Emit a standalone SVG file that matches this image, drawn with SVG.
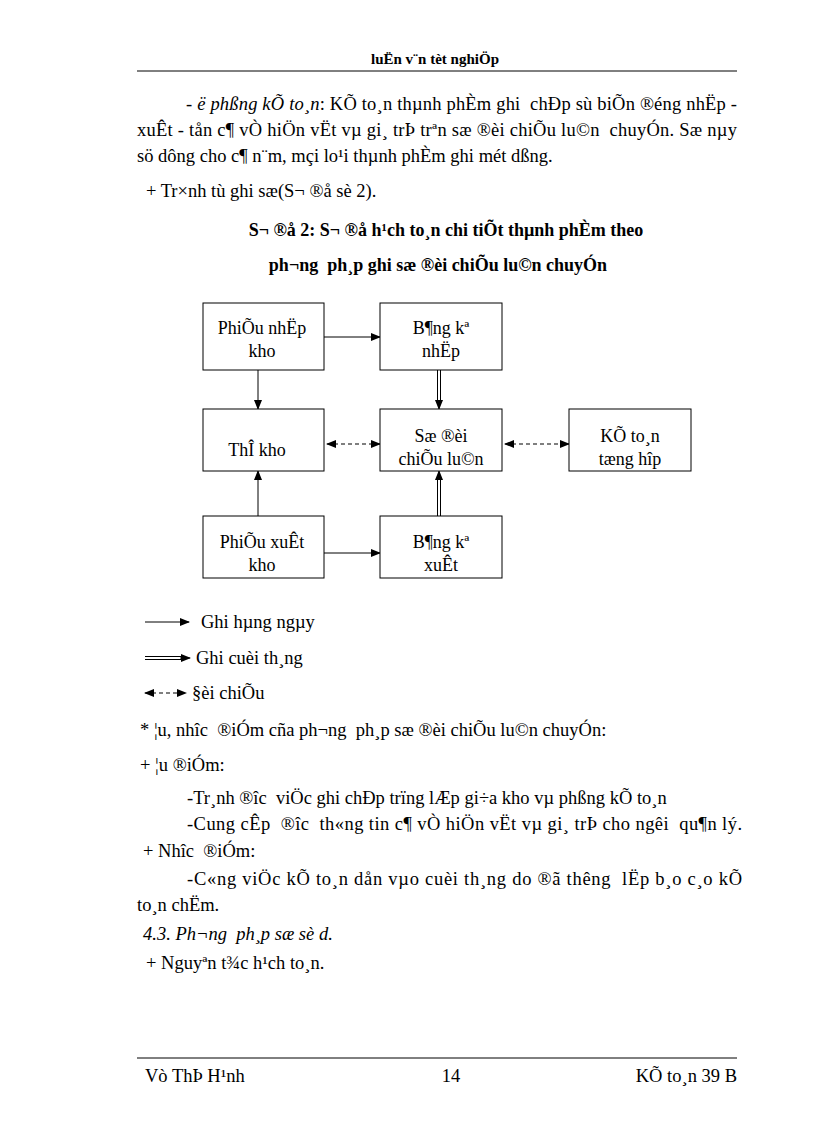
<svg xmlns="http://www.w3.org/2000/svg" width="816" height="1123" viewBox="0 0 816 1123" xml:space="preserve">
<style>
text{font-family:"Liberation Serif","Times New Roman",serif;fill:#000;white-space:pre}
.b{font-size:18.5px}
.h{font-size:15px;font-weight:bold}
.t{font-size:18px;font-weight:bold}
.i{font-style:italic}
.n{font-size:18px}
.box{fill:#fff;stroke:#000;stroke-width:1}
.ln{stroke:#000;stroke-width:1;fill:none}
.ds{stroke:#000;stroke-width:1.2;fill:none;stroke-dasharray:4 3}
</style>
<defs>
<marker id="ah" markerWidth="10" markerHeight="8" refX="9" refY="4" orient="auto" markerUnits="userSpaceOnUse"><path d="M0,0 L10,4 L0,8 Z" fill="#000"/></marker>
<marker id="as" markerWidth="10" markerHeight="8" refX="1" refY="4" orient="auto" markerUnits="userSpaceOnUse"><path d="M10,0 L0,4 L10,8 Z" fill="#000"/></marker>
</defs>
<rect width="816" height="1123" fill="#fff"/>
<text class="h" x="435" y="64" text-anchor="middle">luËn v¨n tèt nghiÖp</text>
<line x1="137" y1="71" x2="737" y2="71" stroke="#000" stroke-width="1"/>
<text class="b" x="186" y="110" textLength="551" lengthAdjust="spacing"><tspan class="i">- ë phßng kÕ to¸n</tspan>: KÕ to¸n thµnh phÈm ghi  chÐp sù biÕn ®éng nhËp -</text>
<text class="b" x="137" y="136" textLength="600" lengthAdjust="spacing">xuÊt - tån c¶ vÒ hiÖn vËt vµ gi¸ trÞ trªn sæ ®èi chiÕu lu©n  chuyÓn. Sæ nµy</text>
<text class="b" x="137" y="162">sö dông cho c¶ n¨m, mçi lo¹i thµnh phÈm ghi mét dßng.</text>
<text class="b" x="146" y="197">+ Tr×nh tù ghi sæ(S¬ ®å sè 2).</text>
<text class="t" x="446" y="236" text-anchor="middle">S¬ ®å 2: S¬ ®å h¹ch to¸n chi tiÕt thµnh phÈm theo</text>
<text class="t" x="438" y="271" text-anchor="middle">ph¬ng  ph¸p ghi sæ ®èi chiÕu lu©n chuyÓn</text>
<g id="connectors">
<line class="ln" x1="324" y1="337" x2="380" y2="337" marker-end="url(#ah)"/>
<line class="ln" x1="258" y1="370" x2="258" y2="409" marker-end="url(#ah)"/>
<line class="ln" x1="437.5" y1="370" x2="437.5" y2="402"/>
<line class="ln" x1="440.5" y1="370" x2="440.5" y2="402"/>
<line class="ln" x1="439" y1="400" x2="439" y2="409" marker-end="url(#ah)"/>
<line class="ds" x1="327" y1="444" x2="380" y2="444" marker-start="url(#as)" marker-end="url(#ah)"/>
<line class="ds" x1="505" y1="444" x2="569" y2="444" marker-start="url(#as)" marker-end="url(#ah)"/>
<line class="ln" x1="258" y1="516" x2="258" y2="471" marker-end="url(#ah)"/>
<line class="ln" x1="437.5" y1="516" x2="437.5" y2="478"/>
<line class="ln" x1="440.5" y1="516" x2="440.5" y2="478"/>
<line class="ln" x1="439" y1="480" x2="439" y2="471" marker-end="url(#ah)"/>
<line class="ln" x1="324" y1="553" x2="380" y2="553" marker-end="url(#ah)"/>
</g>
<g id="n1"><rect class="box" x="203" y="303" width="121" height="67"/><text class="n" x="262" y="334" text-anchor="middle">PhiÕu nhËp</text><text class="n" x="262" y="357" text-anchor="middle">kho</text></g>
<g id="n2"><rect class="box" x="380" y="303" width="122" height="67"/><text class="n" x="441" y="334" text-anchor="middle">B¶ng kª</text><text class="n" x="441" y="357" text-anchor="middle">nhËp</text></g>
<g id="n3"><rect class="box" x="203" y="409" width="121" height="62"/><text class="n" x="257" y="456" text-anchor="middle">ThÎ kho</text></g>
<g id="n4"><rect class="box" x="380" y="409" width="122" height="62"/><text class="n" x="441" y="442" text-anchor="middle">Sæ ®èi</text><text class="n" x="441" y="465" text-anchor="middle">chiÕu lu©n</text></g>
<g id="n5"><rect class="box" x="569" y="409" width="122" height="62"/><text class="n" x="630" y="442" text-anchor="middle">KÕ to¸n</text><text class="n" x="630" y="465" text-anchor="middle">tæng hîp</text></g>
<g id="n6"><rect class="box" x="203" y="516" width="121" height="62"/><text class="n" x="262" y="548" text-anchor="middle">PhiÕu xuÊt</text><text class="n" x="262" y="571" text-anchor="middle">kho</text></g>
<g id="n7"><rect class="box" x="380" y="516" width="122" height="62"/><text class="n" x="441" y="548" text-anchor="middle">B¶ng kª</text><text class="n" x="441" y="571" text-anchor="middle">xuÊt</text></g>
<g id="legend">
<line class="ln" x1="145" y1="622" x2="189" y2="622" marker-end="url(#ah)"/>
<text class="b" x="201" y="628">Ghi hµng ngµy</text>
<line class="ln" x1="145" y1="656.5" x2="182" y2="656.5"/>
<line class="ln" x1="145" y1="659.5" x2="182" y2="659.5"/>
<line class="ln" x1="180" y1="658" x2="190" y2="658" marker-end="url(#ah)"/>
<text class="b" x="196" y="664">Ghi cuèi th¸ng</text>
<line class="ds" x1="145" y1="693" x2="186" y2="693" marker-start="url(#as)" marker-end="url(#ah)"/>
<text class="b" x="192" y="699">§èi chiÕu</text>
</g>
<text class="b" x="140" y="736">* ¦u, nhîc  ®iÓm cña ph¬ng  ph¸p sæ ®èi chiÕu lu©n chuyÓn:</text>
<text class="b" x="140" y="771">+ ¦u ®iÓm:</text>
<text class="b" x="187" y="804">-Tr¸nh ®îc  viÖc ghi chÐp trïng lÆp gi÷a kho vµ phßng kÕ to¸n</text>
<text class="b" x="187" y="830" textLength="555" lengthAdjust="spacing">-Cung cÊp  ®îc  th«ng tin c¶ vÒ hiÖn vËt vµ gi¸ trÞ cho ngêi  qu¶n lý.</text>
<text class="b" x="143" y="857">+ Nhîc  ®iÓm:</text>
<text class="b" x="187" y="885" textLength="555" lengthAdjust="spacing">-C«ng viÖc kÕ to¸n dån vµo cuèi th¸ng do ®ã thêng  lËp b¸o c¸o kÕ</text>
<text class="b" x="137" y="911">to¸n chËm.</text>
<text class="b i" x="143" y="940">4.3. Ph¬ng  ph¸p sæ sè d.</text>
<text class="b" x="146" y="969">+ Nguyªn t¾c h¹ch to¸n.</text>
<line x1="137" y1="1058" x2="737" y2="1058" stroke="#000" stroke-width="1"/>
<text class="b" x="145" y="1082">Vò ThÞ H¹nh</text>
<text class="b" x="451" y="1082" text-anchor="middle">14</text>
<text class="b" x="737" y="1082" text-anchor="end">KÕ to¸n 39 B</text>
</svg>
